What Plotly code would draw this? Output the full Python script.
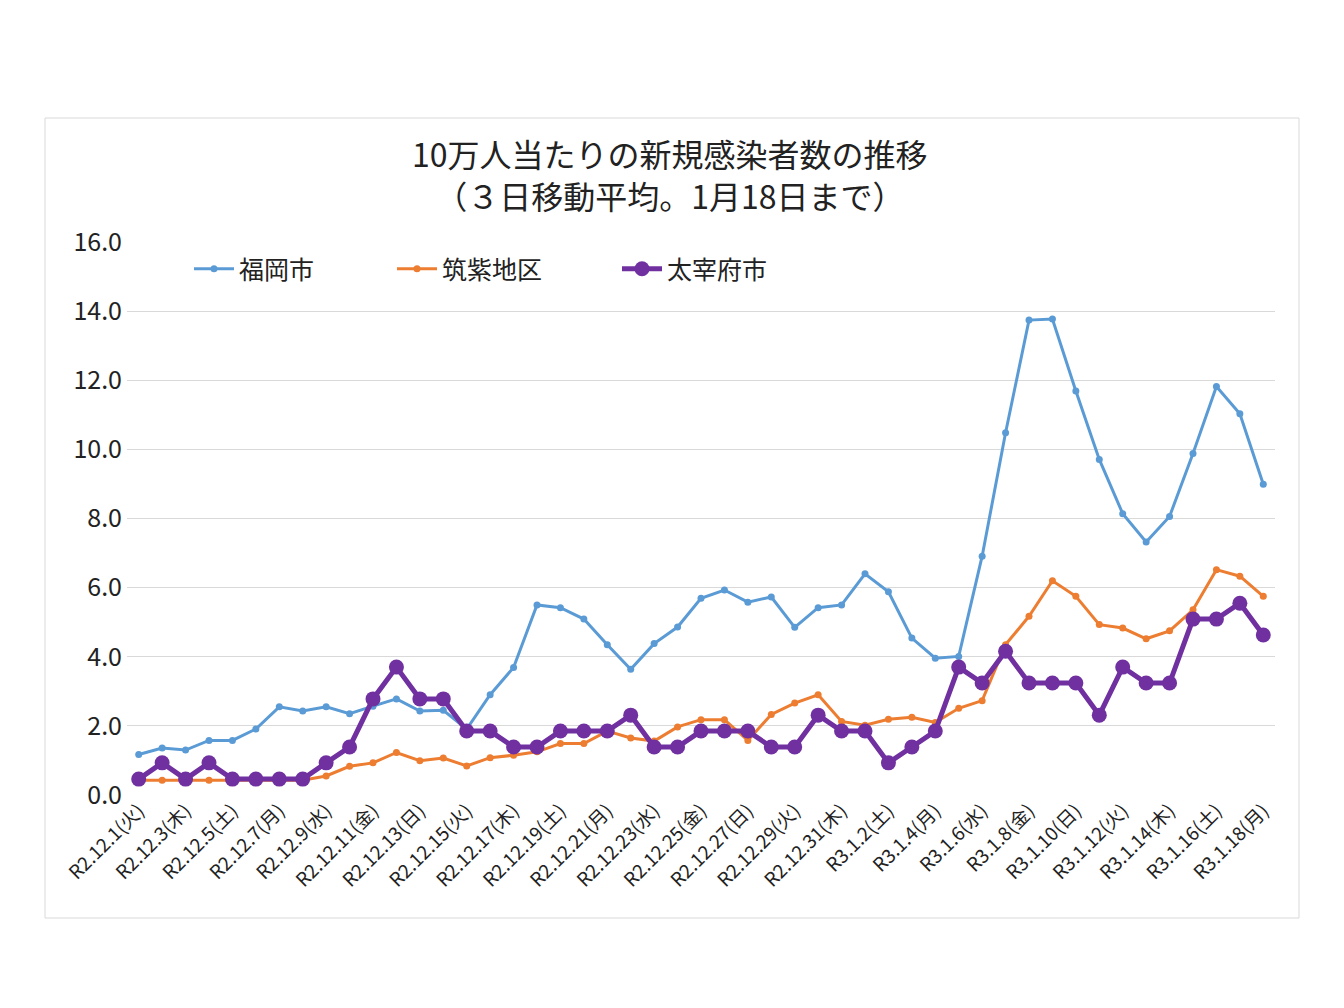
import plotly.graph_objects as go

dates = [
    "R2.12.1(火)", "R2.12.2(水)", "R2.12.3(木)", "R2.12.4(金)", "R2.12.5(土)", "R2.12.6(日)",
    "R2.12.7(月)", "R2.12.8(火)", "R2.12.9(水)", "R2.12.10(木)", "R2.12.11(金)", "R2.12.12(土)",
    "R2.12.13(日)", "R2.12.14(月)", "R2.12.15(火)", "R2.12.16(水)", "R2.12.17(木)", "R2.12.18(金)",
    "R2.12.19(土)", "R2.12.20(日)", "R2.12.21(月)", "R2.12.22(火)", "R2.12.23(水)", "R2.12.24(木)",
    "R2.12.25(金)", "R2.12.26(土)", "R2.12.27(日)", "R2.12.28(月)", "R2.12.29(火)", "R2.12.30(水)",
    "R2.12.31(木)", "R3.1.1(金)", "R3.1.2(土)", "R3.1.3(日)", "R3.1.4(月)", "R3.1.5(火)",
    "R3.1.6(水)", "R3.1.7(木)", "R3.1.8(金)", "R3.1.9(土)", "R3.1.10(日)", "R3.1.11(月)",
    "R3.1.12(火)", "R3.1.13(水)", "R3.1.14(木)", "R3.1.15(金)", "R3.1.16(土)", "R3.1.17(日)",
    "R3.1.18(月)",
]
tick_labels = dates[::2]

fukuoka = [
    1.17, 1.36, 1.30, 1.58, 1.58, 1.91, 2.55, 2.43, 2.55, 2.35,
    2.57, 2.78, 2.43, 2.45, 1.91, 2.90, 3.69, 5.50, 5.42, 5.09,
    4.35, 3.64, 4.38, 4.86, 5.69, 5.93, 5.58, 5.73, 4.85, 5.42,
    5.50, 6.40, 5.88, 4.54, 3.96, 4.01, 6.91, 10.48, 13.74, 13.77,
    11.69, 9.71, 8.14, 7.32, 8.06, 9.88, 11.82, 11.03, 8.99,
]
chikushi = [
    0.43, 0.43, 0.43, 0.43, 0.43, 0.43, 0.43, 0.43, 0.55, 0.83,
    0.93, 1.23, 0.99, 1.07, 0.84, 1.08, 1.15, 1.25, 1.49, 1.49,
    1.85, 1.65, 1.56, 1.97, 2.18, 2.18, 1.58, 2.33, 2.66, 2.90,
    2.13, 2.02, 2.19, 2.25, 2.10, 2.51, 2.73, 4.35, 5.17, 6.20,
    5.75, 4.93, 4.83, 4.52, 4.75, 5.36, 6.52, 6.33, 5.75,
]
dazaifu = [
    0.46, 0.93, 0.46, 0.93, 0.46, 0.46, 0.46, 0.46, 0.93, 1.39,
    2.78, 3.70, 2.78, 2.78, 1.85, 1.85, 1.39, 1.39, 1.85, 1.85,
    1.85, 2.31, 1.39, 1.39, 1.85, 1.85, 1.85, 1.39, 1.39, 2.31,
    1.85, 1.85, 0.93, 1.39, 1.85, 3.70, 3.24, 4.16, 3.24, 3.24,
    3.24, 2.31, 3.70, 3.24, 3.24, 5.09, 5.09, 5.55, 4.63,
]

series_names = ["福岡市", "筑紫地区", "太宰府市"]
y_ticks = [0, 2, 4, 6, 8, 10, 12, 14, 16]
title_text = "10万人当たりの新規感染者数の推移<br>（３日移動平均。1月18日まで）"

FONT = "Noto Sans CJK JP"
OFF = 8  # page body margin
W, H = 1344 - 2 * OFF, 1008 - 2 * OFF
# plot area in screen pixels
PX0, PX1, PY0, PY1 = 127, 1275, 242, 795
L, T = PX0 - OFF, PY0 - OFF
R = W - (PX1 - OFF)
B = H - (PY1 - OFF)
pw, ph = PX1 - PX0, PY1 - PY0

def px_x(x):
    return (x - PX0) / pw

def px_y(y):
    return (PY1 - y) / ph

fig = go.Figure()
fig.add_trace(go.Scatter(
    x=dates, y=fukuoka, name=series_names[0], mode="lines+markers",
    line=dict(color="#5B9BD5", width=3), marker=dict(size=7, color="#5B9BD5"),
    legend="legend",
))
fig.add_trace(go.Scatter(
    x=dates, y=chikushi, name=series_names[1], mode="lines+markers",
    line=dict(color="#ED7D31", width=3), marker=dict(size=7, color="#ED7D31"),
    legend="legend2",
))
fig.add_trace(go.Scatter(
    x=dates, y=dazaifu, name=series_names[2], mode="lines+markers",
    line=dict(color="#7030A0", width=5), marker=dict(size=15, color="#7030A0"),
    legend="legend3",
))

leg_common = dict(orientation="h", xanchor="left", yanchor="middle",
                  font=dict(family=FONT, size=25, color="#222222"),
                  bgcolor="rgba(0,0,0,0)", itemwidth=40)

fig.update_layout(
    width=W, height=H,
    margin=dict(l=L, r=R, t=T, b=B),
    paper_bgcolor="white", plot_bgcolor="white",
    font=dict(family=FONT, color="#222222"),
    legend=dict(x=px_x(189), y=px_y(269), **leg_common),
    legend2=dict(x=px_x(392), y=px_y(269), **leg_common),
    legend3=dict(x=px_x(617), y=px_y(269), **leg_common),
    xaxis=dict(
        type="category", range=[-0.5, len(dates) - 0.5],
        tickmode="array", tickvals=tick_labels, ticktext=tick_labels,
        tickangle=-45, tickfont=dict(family=FONT, size=19, color="#222222"),
        showgrid=False, showline=False, ticks="", zeroline=False,
    ),
    yaxis=dict(
        range=[0, 16], tickmode="array", tickvals=y_ticks, tickformat=".1f",
        tickfont=dict(family=FONT, size=25, color="#222222"),
        ticklabelstandoff=4,
        showgrid=True, gridcolor="#D9D9D9", gridwidth=1,
        zeroline=False, showline=False, ticks="",
    ),
    shapes=[dict(
        type="rect", xref="paper", yref="paper",
        x0=px_x(45), x1=px_x(1299), y0=px_y(918), y1=px_y(118),
        line=dict(color="#D9D9D9", width=1), fillcolor="rgba(0,0,0,0)", layer="below",
    )],
    annotations=[
        dict(text=title_text, xref="paper", yref="paper",
             x=px_x(670), y=px_y(174), xanchor="center", yanchor="middle",
             align="center", showarrow=False,
             font=dict(family=FONT, size=32, color="#222222")),
    ],
    showlegend=True,
)

fig.write_html("out.html")
